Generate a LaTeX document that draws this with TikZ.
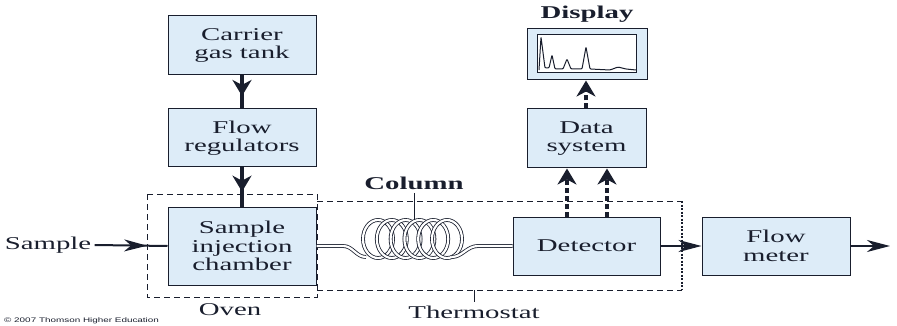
\documentclass[tikz,border=0pt]{standalone}
\usepackage{fontspec}
\setmainfont{Liberation Serif}[FakeStretch=1.6]
\newfontfamily\creditfont{Liberation Sans}[FakeStretch=1.5]
\usetikzlibrary{arrows.meta,decorations.markings}
\definecolor{boxblue}{RGB}{221,236,248}
\definecolor{inkdark}{RGB}{25,30,45}

\begin{document}
\begin{tikzpicture}[x=1pt, y=-1pt,
    box/.style={draw=inkdark, line width=1pt, fill=boxblue, text=inkdark, align=center,
        inner sep=0pt, minimum width=148pt, minimum height=59pt,
        font=\fontsize{18}{18.5}\selectfont},
    caption/.style={text=inkdark, font=\fontsize{18}{18.5}\selectfont},
    feed/.style={line width=3.2pt, draw=inkdark, postaction={decorate},
        decoration={markings, mark=at position #1 with {\arrow{Stealth[length=16pt, width=19pt, inset=5pt]}}}},
    pass/.style={line width=2pt, draw=inkdark, -{Stealth[length=23pt, width=12pt, inset=7pt]}},
    signal/.style={line width=3.5pt, draw=inkdark, dash pattern=on 5pt off 3pt,
        -{Stealth[length=16pt, width=19pt, inset=5pt]}},
    tube/.style={draw=inkdark, line width=0.8pt, double=white, double distance=2.2pt},
    enclosure/.style={draw=inkdark, line width=1pt, dash pattern=on 6pt off 4pt}
]
\useasboundingbox (0,0) rectangle (897,326);

% Boxes
\node[box] (carrier) at (242,45.5) {Carrier\\gas tank};
\node[box, minimum height=58pt] (flowreg) at (242,138) {Flow\\regulators};
\node[box, minimum height=78pt] (inject) at (242,246) {Sample\\injection\\chamber};
\node[box, minimum width=147pt, minimum height=58pt] (detector) at (586.5,246) {Detector};
\node[box, minimum width=119pt] (datasys) at (586.5,138.5) {Data\\system};
\node[box, minimum height=58pt] (flowmeter) at (776,246) {Flow\\meter};

% Display with chromatogram
\node[box, minimum width=120pt, minimum height=51pt] (display) at (587,54.5) {};
\node[draw=inkdark, line width=1pt, fill=white, minimum width=99pt, minimum height=38pt, inner sep=0pt] (screen) at (586.5,54) {};
\draw[inkdark, line width=1pt, rounded corners=1pt]
    (539,70) -- (541,37) -- (545,68) -- (549,68) -- (552,55) -- (555,69) -- (563,69)
    -- (567,59) -- (571,69) -- (582,69) -- (586,47) -- (590,69) -- (610,70)
    -- (618,67) -- (626,69) -- (636,70);
\node[caption, font=\fontsize{18}{18.5}\bfseries] (displaylabel) at (587,14) {Display};

% Oven and thermostat
\draw[enclosure] (147,194) rectangle (317,297);
\draw[enclosure] (317,201) -- (682,201);
\draw[enclosure] (317,290) -- (682,290);
\draw[draw=inkdark, line width=1.2pt, dash pattern=on 2pt off 1.5pt] (682,201) -- (682,290);
\node[caption] (oven) at (230,310) {Oven};
\node[caption] (thermostat) at (474,312) {Thermostat};
\coordinate (thermotick) at (474,290);
\draw[inkdark, line width=1pt] (thermotick) -- (thermostat.north);

% Column coil
\coordinate (coilL) at (366,257);
\coordinate (coilR) at (452,257);
\draw[tube] (inject.east) -- (343,246) .. controls (353,246) and (356,257) .. (coilL);
\foreach \i in {0,...,5}
    \draw[tube] (378+\i*13.8,239) ellipse (15 and 19);
\draw[tube] (coilR) .. controls (462,257) and (467,246) .. (478,246) -- (detector.west);
\node[caption, font=\fontsize{18}{18.5}\bfseries] (column) at (414,183) {Column};
\coordinate (coiltop) at (414,220);
\draw[inkdark, line width=1pt] (column.south) -- (coiltop);

% Flow arrows
\node[caption] (sample) at (48,245) {Sample};
\coordinate (exit) at (890,246);
\draw[feed=0.62] (carrier) -- (flowreg);
\draw[feed=0.62] (flowreg) -- (inject);
\draw[line width=2pt, draw=inkdark, postaction={decorate},
    decoration={markings, mark=at position 0.72 with {\arrow{Stealth[length=23pt, width=12pt, inset=7pt]}}}]
    (sample.east) -- (inject.west);
\draw[pass] (detector.east) -- (flowmeter.west);
\draw[pass] (flowmeter.east) -- (exit);

% Signal arrows
\draw[signal] (detector.north -| 567,0) -- (datasys.south -| 567,0);
\draw[signal] (detector.north -| 607,0) -- (datasys.south -| 607,0);
\draw[signal] (datasys.north -| 586,0) -- (display.south -| 586,0);

% Credit line
\node[anchor=west, inner sep=0pt, text=inkdark, font=\creditfont\fontsize{6.6}{7}\selectfont] (credit) at (4,321) {© 2007 Thomson Higher Education};

\end{tikzpicture}
\end{document}
